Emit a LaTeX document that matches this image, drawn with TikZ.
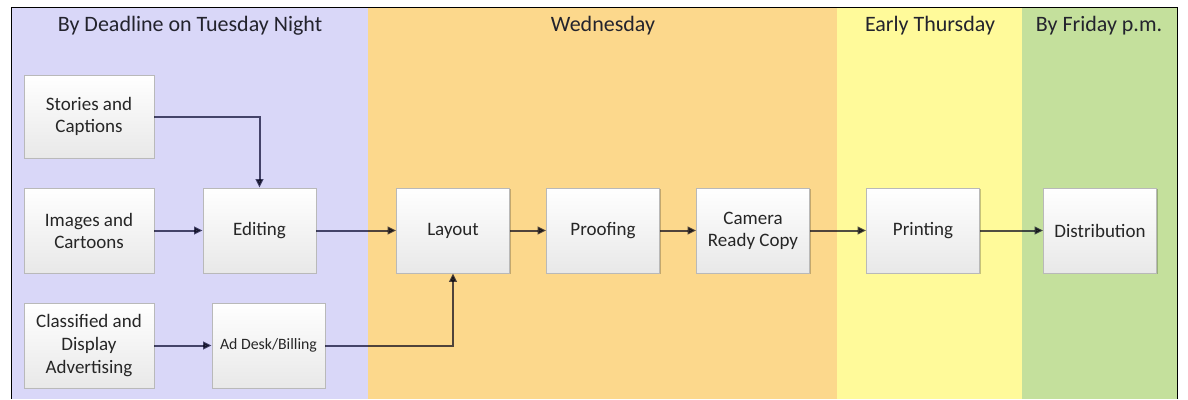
\documentclass[tikz,border=0pt]{standalone}
\usepackage{fontspec}
\setmainfont{Carlito}
\usetikzlibrary{arrows.meta,shadows}
\definecolor{bandA}{RGB}{217,215,248}
\definecolor{bandB}{RGB}{252,216,140}
\definecolor{bandC}{RGB}{255,250,154}
\definecolor{bandD}{RGB}{196,224,156}
\definecolor{boxline}{RGB}{185,185,185}
\definecolor{headtext}{RGB}{35,35,45}
\definecolor{linkcol}{RGB}{80,80,108}
\begin{document}
\begin{tikzpicture}[x=1pt,y=-1pt,
  header/.style={font=\fontsize{22}{26}\selectfont, text=headtext, anchor=center},
  stepbox/.style={rectangle, draw=boxline, line width=0.7pt,
    top color=white, bottom color=black!9, minimum width=113pt, minimum height=85pt,
    align=center, font=\fontsize{19}{22}\selectfont, text=black!85,
    drop shadow={shadow xshift=1.2pt, shadow yshift=-1.2pt, opacity=0.22, fill=black}},
  link/.style={draw=linkcol, blend mode=multiply, line width=2pt,
    -{Stealth[length=8.5pt,width=7.5pt,inset=0pt]}}]
\useasboundingbox (0,0) rectangle (1188,399);
\fill[white] (0,0) rectangle (1188,399);
% bands
\fill[bandA] (11,7) rectangle (368,399);
\fill[bandB] (368,7) rectangle (837,399);
\fill[bandC] (837,7) rectangle (1022,399);
\fill[bandD] (1022,7) rectangle (1177,399);
\draw[black, line width=1pt] (11,399) -- (11,7) -- (1177,7) -- (1177,399);
% headers
\node[header] (hA) at (190,26) {By Deadline on Tuesday Night};
\node[header] (hB) at (603,26) {Wednesday};
\node[header] (hC) at (930,26) {Early Thursday};
\node[header] (hD) at (1099,26) {By Friday p.m.};
% boxes
\node[stepbox, minimum width=130pt, minimum height=83pt] (stories) at (89,116.5) {Stories and\\Captions};
\node[stepbox, minimum width=130pt] (images) at (89,230.5) {Images and\\Cartoons};
\node[stepbox, minimum width=130pt, font=\fontsize{19}{23}\selectfont] (classified) at (89,345.5) {Classified and\\Display\\Advertising};
\node[stepbox] (editing) at (259.5,230.5) {Editing};
\node[stepbox, font=\fontsize{15.8}{19}\selectfont] (addesk) at (268.5,345.5) {Ad Desk/Billing};
\node[stepbox] (layout) at (453,230.5) {Layout};
\node[stepbox] (proofing) at (603,230.5) {Proofing};
\node[stepbox] (camera) at (753,230.5) {Camera\\Ready Copy};
\node[stepbox] (printing) at (923,230.5) {Printing};
\node[stepbox] (distribution) at (1100,230.5) {Distribution};
% links
\draw[link] (stories.east) -| (editing.north);
\draw[link] (images) -- (editing);
\draw[link] (editing) -- (layout);
\draw[link] (layout) -- (proofing);
\draw[link] (proofing) -- (camera);
\draw[link] (camera) -- (printing);
\draw[link] (printing) -- (distribution);
\draw[link] (classified) -- (addesk);
\draw[link] (addesk.east) -| (layout.south);
\end{tikzpicture}
\end{document}
